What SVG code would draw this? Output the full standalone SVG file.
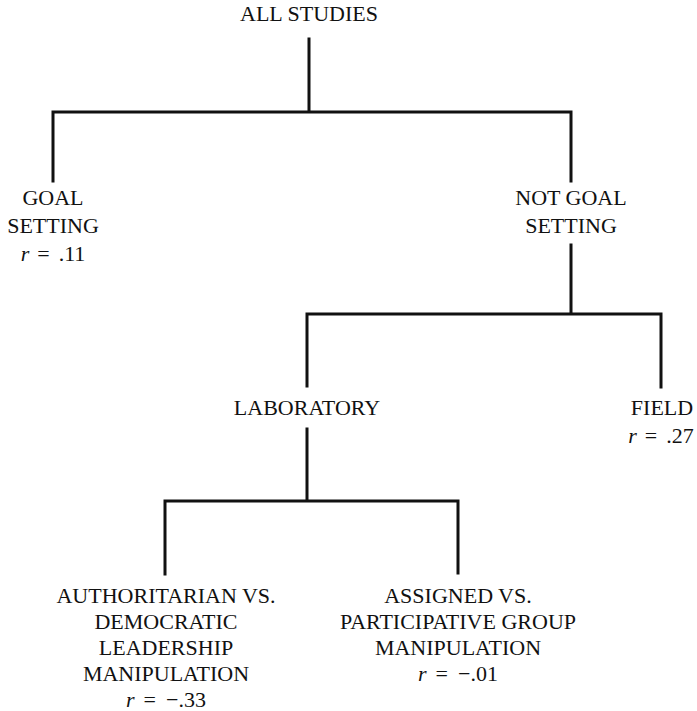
<svg xmlns="http://www.w3.org/2000/svg" width="697" height="711" viewBox="0 0 697 711">
<style>
text{font-family:"Liberation Serif","Times New Roman",serif;font-size:22px;fill:#111;text-anchor:middle}
.r{font-style:italic}
.ln{stroke:#111;stroke-width:3;fill:none;stroke-linecap:square}
</style>
<rect width="697" height="711" fill="#fff"/>
<g id="connectors">
<path class="ln" d="M309 39V112M53 181V112H571V181"/>
<path class="ln" d="M571 245V314M307 386V314H661V387"/>
<path class="ln" d="M307 429V501M165 574V501H458V573"/>
</g>
<g id="all-studies"><text x="309" y="21">ALL STUDIES</text></g>
<g id="goal-setting"><text x="53" y="205">GOAL</text><text x="53" y="233">SETTING</text><text x="53" y="261"><tspan class="r">r</tspan><tspan dx="8">=</tspan><tspan dx="9">.11</tspan></text></g>
<g id="not-goal-setting"><text x="571" y="205">NOT GOAL</text><text x="571" y="233">SETTING</text></g>
<g id="laboratory"><text x="307" y="415">LABORATORY</text></g>
<g id="field"><text x="662" y="415">FIELD</text><text x="661" y="443"><tspan class="r">r</tspan><tspan dx="8">=</tspan><tspan dx="9">.27</tspan></text></g>
<g id="authoritarian"><text x="166" y="603">AUTHORITARIAN VS.</text><text x="166" y="629">DEMOCRATIC</text><text x="166" y="655">LEADERSHIP</text><text x="166" y="681">MANIPULATION</text><text x="166" y="707"><tspan class="r">r</tspan><tspan dx="9">=</tspan><tspan dx="10">−.33</tspan></text></g>
<g id="assigned"><text x="458" y="603">ASSIGNED VS.</text><text x="458" y="629">PARTICIPATIVE GROUP</text><text x="458" y="655">MANIPULATION</text><text x="458" y="681"><tspan class="r">r</tspan><tspan dx="9">=</tspan><tspan dx="10">−.01</tspan></text></g>
</svg>
